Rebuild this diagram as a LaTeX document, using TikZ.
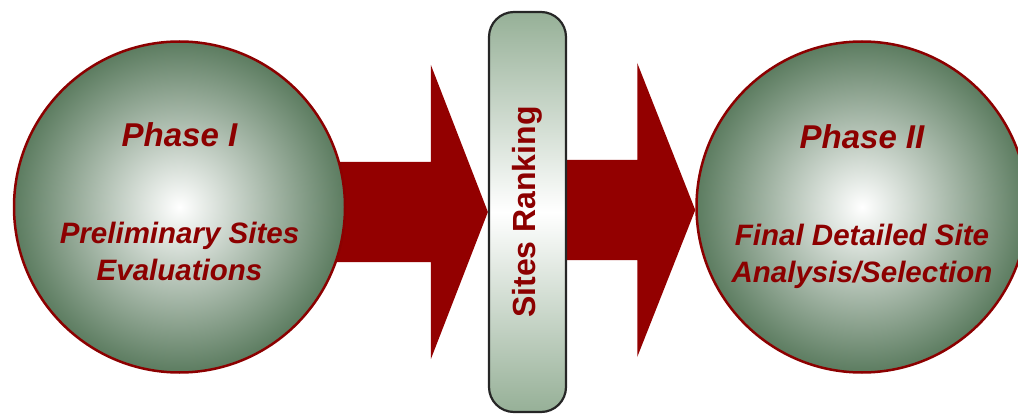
\documentclass[tikz,border=0pt]{standalone}
\usepackage{fontspec}
\setmainfont{Liberation Sans}
\usepackage{xcolor}
\usetikzlibrary{positioning, backgrounds}
\definecolor{rojoflecha}{HTML}{930000}
\definecolor{rojotexto}{HTML}{8C0000}
\definecolor{verdefase}{HTML}{5C7C60}
\definecolor{verdebarra}{HTML}{96B097}
\definecolor{grisborde}{HTML}{262626}

\begin{document}
\begin{tikzpicture}[
    x=1pt, y=1pt,
    fase/.style={circle, draw=rojotexto, line width=2.5pt, minimum size=331pt,
        inner color=white, outer color=verdefase},
    titulo/.style={anchor=base, text=rojotexto, inner sep=0pt,
        font=\fontsize{33}{40}\selectfont\bfseries\itshape},
    detalle/.style={align=center, text=rojotexto, inner sep=0pt,
        font=\fontsize{29.5}{37}\selectfont\bfseries\itshape},
    barra/.style={draw=grisborde, line width=2.2pt, rounded corners=25pt,
        minimum width=400pt, minimum height=77pt, rotate=90,
        top color=verdebarra, bottom color=verdebarra, middle color=white,
        text=rojotexto, font=\fontsize{32}{38}\selectfont\bfseries},
    flecha/.style={fill=rojoflecha}
]
\useasboundingbox (0,0) rectangle (1018,413);

% etapas y barra central
\node[fase] (f1) at (179.5,206) {};
\node[barra] (rank) at (527.5,201) {Sites Ranking};
\node[fase] (f2) at (862,206) {};

% textos de cada etapa
\node[titulo] (t1) at ([yshift=60]f1.center) {Phase I};
\node[detalle, below=75pt of t1.base] (d1) {Preliminary Sites\\Evaluations};
\node[titulo] (t2) at ([yshift=58]f2.center) {Phase II};
\node[detalle, below=75pt of t2.base] (d2) {Final Detailed Site\\Analysis/Selection};

% flechas gruesas por debajo
\begin{pgfonlayer}{background}
\fill[flecha] (rank.north) -- ++(-57,147) -- ++(0,-97) -- ++(-110,0)
    -- ++(0,-100) -- ++(110,0) -- ++(0,-97) -- cycle;
\fill[flecha] ([yshift=-3]f2.west) -- ++(-58,147) -- ++(0,-97) -- ++(-80,0)
    -- ++(0,-100) -- ++(80,0) -- ++(0,-97) -- cycle;
\end{pgfonlayer}
\end{tikzpicture}
\end{document}
